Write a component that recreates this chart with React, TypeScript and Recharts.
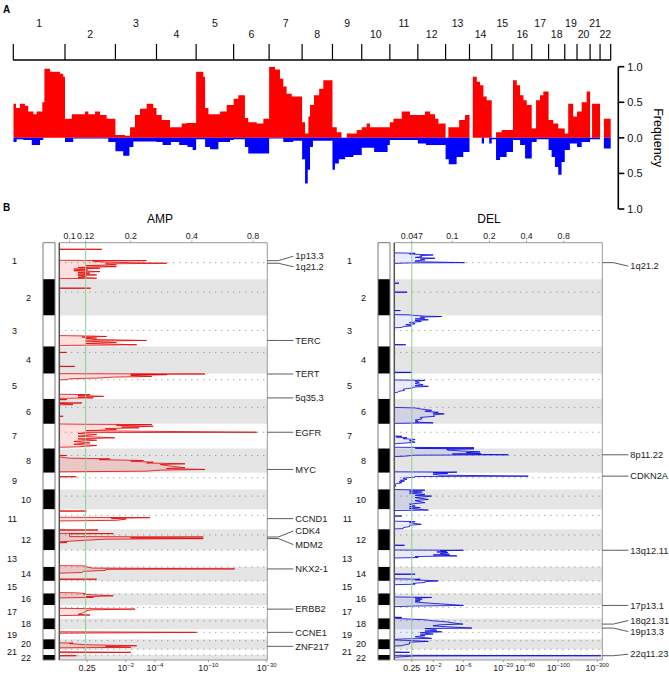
import React from 'react';
import { ComposedChart, Area, Line, XAxis, YAxis, ReferenceArea, ReferenceLine } from 'recharts';

const FONT = '"Liberation Sans", Arial, Helvetica, sans-serif';

// ---- chromosomes ----
const chromosomes = ['1', '2', '3', '4', '5', '6', '7', '8', '9', '10', '11', '12', '13', '14', '15', '16', '17', '18', '19', '20', '21', '22'];
// physical length (Mb), used by panel A
const chromLengthMb = [249.3, 243.2, 198.0, 191.2, 180.9, 171.1, 159.1, 146.4, 141.2, 135.5, 135.0, 133.9, 115.2, 107.3, 102.5, 90.4, 81.2, 78.1, 59.1, 63.0, 48.1, 51.3];
// marker counts (x10), used by panel B
const markerCounts = [366, 364, 310, 273, 253, 250, 247, 243, 167, 200, 200, 210, 167, 140, 126, 117, 133, 110, 100, 100, 57, 50];
const centromereMarker = [200, 496, 880, 1100, 1373, 1650, 1900, 2133, 2356, 2540, 2733, 2930, 3083, 3250, 3390, 3523, 3656, 3790, 3906, 3990, 4076, 4133];

// ---- panel A: frequency of gain / loss, step start (Mb) and value ----
const ampFrequency: [number, number][] = [
  [0, 0.48], [13, 0.42], [32, 0.48], [56, 0.45], [72, 0.37], [97, 0.33], [113, 0.37], [140, 0.5], [150, 0.97], [177, 0.93], [225, 0.9], [241, 0.86],
  [249.3, 0.27], [282, 0.33], [346, 0.37], [362, 0.33], [394, 0.37], [418, 0.32], [450, 0.27],
  [492.5, 0.04], [539, 0.03], [563, 0.15], [587, 0.32], [611, 0.41], [643, 0.48], [675, 0.42],
  [690.5, 0.32], [716, 0.25], [756, 0.15], [812, 0.2], [836, 0.21],
  [881.7, 0.93], [916, 0.86], [925, 0.42], [941, 0.33], [997, 0.37], [1029, 0.46],
  [1062.6, 0.55], [1085, 0.6], [1117, 0.28], [1133, 0.22], [1174, 0.2], [1206, 0.27],
  [1233.7, 1.0], [1262, 0.96], [1286, 0.83], [1302, 0.72], [1318, 0.62], [1343, 0.58],
  [1392.8, 0.22], [1407, 0.06], [1423, 0.3], [1431, 0.46], [1450, 0.6], [1475, 0.69], [1495, 0.81],
  [1539.2, 0.15], [1560, 0.08], [1583, 0], [1608, 0.06], [1656, 0.11],
  [1680.4, 0.15], [1704, 0.2], [1720, 0.15],
  [1815.9, 0.22], [1833, 0.27], [1873, 0.37], [1913, 0.32],
  [1950.9, 0.32], [1985, 0.37], [2010, 0.33], [2034, 0.27], [2050, 0.2],
  [2084.8, 0], [2098, 0.15], [2150, 0.25], [2178, 0.32],
  [2200, 0], [2216, 0.86], [2235, 0.79], [2251, 0.74], [2267, 0.58], [2283, 0.53],
  [2307.3, 0], [2328, 0.08], [2355, 0.11],
  [2409.8, 0.81], [2428, 0.74], [2444, 0.6], [2460, 0.53], [2476, 0.46],
  [2500.2, 0.13], [2521, 0.53], [2540, 0.6], [2556, 0.65],
  [2581.4, 0.25], [2604, 0.2], [2628, 0.13],
  [2659.5, 0.06], [2676, 0.48], [2700, 0.3],
  [2718.6, 0.37], [2741, 0.5], [2765, 0.65],
  [2781.6, 0], [2791, 0.48],
  [2829.7, 0], [2848, 0.27],
  [2881, 0.27],
];
const delFrequency: [number, number][] = [
  [0, -0.06], [16, -0.02], [48, -0.03], [89, -0.1], [129, -0.03], [145, 0],
  [249.3, -0.06], [289, -0.01], [458, -0.06],
  [492.5, -0.19], [530, -0.25], [560, -0.13], [579, -0.05],
  [690.5, -0.06], [720, -0.1], [760, -0.06], [800, -0.1], [840, -0.13], [865, -0.17],
  [881.7, -0.02], [925, -0.13], [949, -0.16], [989, -0.06], [1045, -0.03],
  [1062.6, -0.02], [1117, -0.13], [1133, -0.22],
  [1233.7, -0.01], [1302, -0.06], [1350, -0.04],
  [1392.8, -0.3], [1407, -0.64], [1420, -0.45], [1431, -0.13], [1445, -0.04],
  [1539.2, -0.45], [1551, -0.36], [1570, -0.3], [1600, -0.27], [1640, -0.24],
  [1680.4, -0.14], [1740, -0.2], [1805, -0.1],
  [1815.9, -0.03],
  [1950.9, -0.08], [1990, -0.1],
  [2084.8, -0.3], [2100, -0.37], [2138, -0.27], [2170, -0.2],
  [2200, 0], [2259, -0.08], [2270, 0], [2295, -0.08],
  [2307.3, -0.02], [2328, -0.31], [2347, -0.27], [2379, -0.2],
  [2409.8, -0.03], [2444, -0.1], [2468, -0.29],
  [2500.2, -0.06], [2524, -0.02],
  [2581.4, -0.17], [2596, -0.27], [2612, -0.41], [2628, -0.52], [2644, -0.34],
  [2659.5, -0.17], [2684, -0.08],
  [2718.6, -0.13], [2741, -0.06],
  [2781.6, -0.02],
  [2829.7, 0], [2848, -0.15],
  [2881, -0.15],
];
const freqTicks = [-1, -0.5, 0, 0.5, 1];

// ---- panel B: G-scores along the genome (marker position, score) ----
const ampScores: [number, number][] = [
  [0, 0.08], [63, 0.08], [66, 0.144], [69, 0.08], [176, 0.08], [180, 0.239], [184, 0.13], [195, 0.15], [200, 0.2], [206, 0.301], [212, 0.15], [222, 0.17], [230, 0.12], [240, 0.17], [248, 0.11], [256, 0.141], [264, 0.105], [273, 0.123], [281, 0.105], [290, 0.141], [298, 0.11], [306, 0.126], [315, 0.11], [323, 0.136], [331, 0.11], [340, 0.121], [348, 0.11], [356, 0.136], [362, 0.08],
  [453, 0.08], [456, 0.127], [459, 0.08],
  [930, 0.08], [936, 0.13], [940, 0.152], [946, 0.115], [956, 0.136], [962, 0.12], [970, 0.13], [980, 0.239], [986, 0.12], [1000, 0.17], [1010, 0.12], [1023, 0.214], [1030, 0.09], [1036, 0.08],
  [1097, 0.08], [1100, 0.097], [1103, 0.08], [1237, 0.08], [1240, 0.106], [1243, 0.08],
  [1313, 0.08], [1316, 0.464], [1319, 0.2], [1323, 0.301], [1330, 0.2], [1340, 0.254], [1348, 0.16], [1356, 0.141], [1364, 0.1], [1373, 0.097], [1378, 0.08], [1518, 0.08], [1523, 0.126], [1530, 0.11], [1540, 0.147], [1548, 0.11], [1556, 0.131], [1562, 0.08],
  [1570, 0.08], [1573, 0.097], [1576, 0.08], [1603, 0.08], [1606, 0.115], [1612, 0.09], [1623, 0.104], [1627, 0.08], [1737, 0.08], [1740, 0.093], [1743, 0.08],
  [1816, 0.08], [1820, 0.12], [1823, 0.254], [1830, 0.17], [1840, 0.258], [1848, 0.18], [1856, 0.22], [1864, 0.15], [1873, 0.17], [1885, 0.12], [1900, 0.834], [1904, 0.12], [1912, 0.11], [1923, 0.136], [1940, 0.11], [1956, 0.167], [1966, 0.11], [1980, 0.136], [1992, 0.105], [2006, 0.126], [2020, 0.105], [2033, 0.136], [2046, 0.112], [2052, 0.08],
  [2130, 0.08], [2133, 0.097], [2136, 0.08], [2160, 0.1], [2166, 0.158], [2175, 0.14], [2183, 0.231], [2190, 0.2], [2200, 0.258], [2208, 0.24], [2216, 0.37], [2224, 0.28], [2233, 0.3], [2245, 0.33], [2256, 0.37], [2264, 0.3], [2273, 0.464], [2280, 0.28], [2290, 0.239], [2298, 0.08],
  [2343, 0.08], [2346, 0.108], [2349, 0.08],
  [2687, 0.08], [2690, 0.121], [2693, 0.08], [2752, 0.08], [2756, 0.249], [2762, 0.16], [2770, 0.19], [2783, 0.17], [2790, 0.08],
  [2876, 0.08], [2880, 0.138], [2884, 0.08], [2913, 0.08], [2916, 0.164], [2920, 0.1], [2946, 0.1], [2950, 0.455], [2956, 0.2], [2962, 0.2], [2966, 0.455], [2972, 0.15], [2990, 0.104], [3000, 0.09], [3006, 0.097], [3012, 0.08],
  [3236, 0.08], [3240, 0.121], [3250, 0.121], [3262, 0.13], [3270, 0.65], [3274, 0.15], [3285, 0.15], [3294, 0.117], [3306, 0.115], [3315, 0.08], [3370, 0.08], [3373, 0.136], [3376, 0.08],
  [3506, 0.08], [3510, 0.108], [3516, 0.12], [3523, 0.117], [3530, 0.13], [3540, 0.164], [3548, 0.12], [3556, 0.131], [3562, 0.08],
  [3663, 0.08], [3668, 0.12], [3673, 0.21], [3680, 0.13], [3690, 0.12], [3698, 0.121], [3706, 0.117], [3715, 0.115], [3725, 0.11], [3733, 0.126], [3740, 0.08],
  [3900, 0.08], [3904, 0.3], [3906, 0.422], [3910, 0.2], [3915, 0.08],
  [4010, 0.08], [4013, 0.104], [4018, 0.1], [4030, 0.12], [4040, 0.214], [4046, 0.15], [4056, 0.2], [4062, 0.08],
  [4100, 0.08], [4106, 0.2], [4110, 0.08], [4137, 0.08], [4140, 0.108], [4144, 0.08], [4183, 0.08],
];
const delScores: [number, number][] = [
  [0, 0.03], [100, 0.03], [106, 0.05], [112, 0.045], [118, 0.055], [123, 0.07], [130, 0.055], [140, 0.0565], [148, 0.05], [156, 0.0724], [164, 0.055], [173, 0.06], [182, 0.05], [190, 0.05], [200, 0.126], [203, 0.045], [210, 0.03],
  [403, 0.03], [406, 0.037], [409, 0.03], [493, 0.03], [496, 0.043], [499, 0.03], [677, 0.03], [680, 0.038], [683, 0.03], [720, 0.03], [723, 0.044],
  [730, 0.05], [736, 0.06], [740, 0.082], [746, 0.055], [756, 0.06], [764, 0.05], [773, 0.064], [781, 0.05], [790, 0.056], [800, 0.045], [813, 0.05], [822, 0.042], [833, 0.047], [842, 0.04], [850, 0.039], [856, 0.03],
  [1020, 0.03], [1023, 0.042], [1026, 0.03], [1297, 0.03], [1300, 0.047], [1304, 0.03],
  [1375, 0.03], [1380, 0.06], [1388, 0.05], [1400, 0.054], [1410, 0.05], [1423, 0.058], [1432, 0.05], [1440, 0.064], [1448, 0.048], [1456, 0.048], [1468, 0.04], [1480, 0.041], [1490, 0.037], [1500, 0.036], [1506, 0.03],
  [1650, 0.03], [1656, 0.05], [1666, 0.055], [1680, 0.068], [1690, 0.06], [1700, 0.077], [1708, 0.07], [1716, 0.086], [1726, 0.07], [1740, 0.072], [1752, 0.055], [1766, 0.057], [1778, 0.05], [1790, 0.053], [1798, 0.05], [1806, 0.07], [1812, 0.03],
  [1935, 0.03], [1940, 0.039], [1948, 0.035], [1956, 0.043], [1964, 0.04], [1973, 0.05], [1985, 0.045], [2000, 0.05], [2010, 0.04], [2020, 0.03], [2050, 0.03], [2056, 0.15], [2060, 0.05],
  [2063, 0.06], [2066, 0.15], [2072, 0.09], [2080, 0.092], [2088, 0.12], [2096, 0.168], [2104, 0.13], [2113, 0.17], [2118, 0.1], [2126, 0.284], [2130, 0.05], [2140, 0.041], [2146, 0.03],
  [2296, 0.03], [2300, 0.109], [2306, 0.07], [2313, 0.092], [2320, 0.07], [2330, 0.08], [2340, 0.413], [2344, 0.05], [2350, 0.05], [2360, 0.04], [2373, 0.043], [2382, 0.038], [2390, 0.041], [2398, 0.037], [2406, 0.039], [2420, 0.034], [2440, 0.035], [2446, 0.03],
  [2473, 0.03], [2480, 0.06], [2490, 0.045], [2500, 0.057], [2510, 0.045], [2523, 0.06], [2532, 0.05], [2540, 0.068], [2555, 0.05], [2573, 0.064], [2585, 0.05], [2606, 0.06], [2620, 0.045], [2640, 0.05], [2648, 0.045], [2656, 0.055], [2665, 0.045], [2680, 0.064], [2686, 0.03],
  [2736, 0.03], [2740, 0.039], [2744, 0.03], [2790, 0.03], [2796, 0.05], [2806, 0.045], [2815, 0.05], [2823, 0.056], [2832, 0.045], [2846, 0.045], [2856, 0.04], [2866, 0.04], [2872, 0.03],
  [3030, 0.03], [3033, 0.041], [3036, 0.03], [3080, 0.03], [3083, 0.123], [3088, 0.08], [3093, 0.09], [3100, 0.075], [3106, 0.092], [3115, 0.08], [3123, 0.095], [3130, 0.07], [3140, 0.109], [3146, 0.05], [3156, 0.053], [3162, 0.03],
  [3320, 0.03], [3323, 0.05], [3326, 0.03], [3368, 0.03], [3373, 0.055], [3380, 0.05], [3390, 0.077], [3398, 0.06], [3406, 0.06], [3415, 0.048], [3423, 0.05], [3430, 0.03],
  [3550, 0.03], [3556, 0.068], [3562, 0.05], [3573, 0.057], [3582, 0.05], [3590, 0.055], [3600, 0.05], [3610, 0.06], [3620, 0.08], [3628, 0.1], [3636, 0.123], [3642, 0.05], [3650, 0.03],
  [3752, 0.03], [3756, 0.039], [3760, 0.03], [3770, 0.04], [3780, 0.06], [3790, 0.07], [3800, 0.09], [3810, 0.1], [3823, 0.122], [3830, 0.08], [3840, 0.07], [3850, 0.09], [3863, 0.144], [3868, 0.06], [3876, 0.07],
  [3885, 0.075], [3893, 0.06], [3900, 0.082], [3910, 0.055], [3923, 0.07], [3932, 0.055], [3940, 0.06], [3950, 0.05], [3966, 0.068], [3972, 0.04], [3980, 0.03],
  [3990, 0.05], [3996, 0.064], [4005, 0.045], [4023, 0.045], [4035, 0.04], [4040, 0.039], [4046, 0.03],
  [4100, 0.03], [4106, 0.045], [4110, 0.03], [4136, 0.03], [4140, 1.6], [4143, 0.05], [4150, 0.04], [4160, 0.03], [4183, 0.03],
];

const ampGenes: [string, number][] = [
  ['1p13.3', 180], ['1q21.2', 206], ['TERC', 980], ['TERT', 1316], ['5q35.3', 1556], ['EGFR', 1900], ['MYC', 2273],
  ['CCND1', 2766], ['CDK4', 2950], ['MDM2', 2966], ['NKX2-1', 3270], ['ERBB2', 3673], ['CCNE1', 3906], ['ZNF217', 4046],
];
const delGenes: [string, number][] = [
  ['1q21.2', 200], ['8p11.22', 2126], ['CDKN2A', 2340], ['13q12.11', 3083], ['17p13.1', 3636], ['18q21.31', 3823], ['19p13.3', 3863], ['22q11.23', 4140],
];
// label nudges (px) where neighbouring labels fan out
const labelNudge: Record<string, number> = { '1p13.3': -4.5, '1q21.2': 3.5, CDK4: -6, MDM2: 6, '18q21.31': -3.5, '19p13.3': 3.5, '22q11.23': -1.5 };

const ampGTicks = [0.1, 0.12, 0.2, 0.4, 0.8];
const ampQTicks = [0.122, 0.189, 0.263, 0.482, 0.934];
const ampQLabels = ['0.25', '10^\u22122', '10^\u22124', '10^\u221210', '10^\u221230'];
const delGTicks = [0.047, 0.1, 0.2, 0.4, 0.8];
const delQTicks = [0.0469, 0.0702, 0.1228, 0.259, 0.388, 0.723, 1.496];
const delQLabels = ['0.25', '10^\u22122', '10^\u22126', '10^\u221220', '10^\u221240', '10^\u2212100', '10^\u2212300'];

// ---- derived ----
const cumulative = (lens: number[]) => lens.reduce<number[]>((acc, l) => [...acc, acc[acc.length - 1] + l], [0]);
const genomeBounds = cumulative(chromLengthMb);
const genomeMid = chromLengthMb.map((l, i) => genomeBounds[i] + l / 2);
const GENOME_END = genomeBounds[genomeBounds.length - 1];
const markerBounds = cumulative(markerCounts);
const markerMid = markerCounts.map((l, i) => markerBounds[i] + l / 2);
const MARKER_END = markerBounds[markerBounds.length - 1];
const AXIS_GAP_MB = 36.6;

const ampFreqData = ampFrequency.map(([pos, f]) => ({ pos, f }));
const delFreqData = delFrequency.map(([pos, f]) => ({ pos, f }));
const rulerData = genomeMid.map((pos) => ({ pos, v: 0.5 }));
const ideogramData = markerMid.map((pos) => ({ pos, v: 0.5 }));

function ChromosomeRuler() {
  const nameTick = (props: any) => {
    const i = genomeMid.indexOf(props.payload.value);
    return (
      <text x={props.x} y={i % 2 === 0 ? 27.3 : 38.3} textAnchor="middle" fontSize={10.5} fontFamily={FONT} fill="#111">
        {chromosomes[i]}
      </text>
    );
  };
  return (
    <ComposedChart width={669} height={63} data={rulerData} margin={{ top: 44, right: 58.3, bottom: 0, left: 13.3 }}>
      <XAxis xAxisId="bounds" orientation="top" type="number" dataKey="pos" domain={[0, GENOME_END]} allowDataOverflow ticks={genomeBounds}
        interval={0} height={16} tickSize={16} tick={() => <g />} axisLine={{ stroke: '#000', strokeWidth: 1.5 }} tickLine={{ stroke: '#000', strokeWidth: 1.2 }} />
      <XAxis xAxisId="names" orientation="bottom" type="number" dataKey="pos" domain={[0, GENOME_END]} allowDataOverflow ticks={genomeMid}
        interval={0} height={1} tick={nameTick} axisLine={false} tickLine={false} />
      <YAxis hide domain={[0, 1]} allowDataOverflow />
      <Line xAxisId="names" dataKey="v" stroke="none" dot={false} activeDot={false} isAnimationActive={false} />
      <Line xAxisId="bounds" dataKey="v" stroke="none" dot={false} activeDot={false} isAnimationActive={false} />
    </ComposedChart>
  );
}

function FrequencyChart() {
  return (
    <ComposedChart width={669} height={220} margin={{ top: 66.7, right: 10.7, bottom: 11, left: 13.3 }}>
      <XAxis type="number" dataKey="pos" domain={[0, GENOME_END + AXIS_GAP_MB]} allowDataOverflow hide />
      <YAxis orientation="right" type="number" domain={[-1, 1]} allowDataOverflow ticks={freqTicks} width={40}
        tickFormatter={(v: number) => Math.abs(v).toFixed(1)} tickSize={6} tickMargin={3}
        tick={{ fontSize: 11, fill: '#111', fontFamily: FONT }}
        axisLine={{ stroke: '#000', strokeWidth: 1.6 }} tickLine={{ stroke: '#000', strokeWidth: 1.6 }} />
      <Area data={ampFreqData} dataKey="f" type="stepAfter" baseValue={0} fill="#ff0000" fillOpacity={1} stroke="none" isAnimationActive={false} />
      <Area data={delFreqData} dataKey="f" type="stepAfter" baseValue={0} fill="#0000ff" fillOpacity={1} stroke="none" isAnimationActive={false} />
    </ComposedChart>
  );
}

function Ideogram() {
  const chromTick = (props: any) => {
    const i = markerMid.indexOf(props.payload.value);
    return (
      <text x={i % 2 === 0 ? 17 : 31} y={props.y} dy="0.35em" textAnchor="end" fontSize={9} fontFamily={FONT} fill="#111">
        {chromosomes[i]}
      </text>
    );
  };
  return (
    <ComposedChart layout="vertical" width={60} height={454} data={ideogramData} margin={{ top: 22.7, right: 5, bottom: 14, left: 0 }}>
      <XAxis type="number" domain={[0, 1]} allowDataOverflow hide />
      <YAxis type="number" dataKey="pos" domain={[0, MARKER_END]} allowDataOverflow ticks={markerMid} interval={0} width={43}
        tick={chromTick} tickLine={false} axisLine={false} />
      {chromosomes.map((c, i) => (
        <ReferenceArea key={c} y1={markerBounds[i]} y2={markerBounds[i + 1]} fill={i % 2 ? '#000' : '#fff'} fillOpacity={1} stroke="none" />
      ))}
      <ReferenceArea y1={0} y2={MARKER_END} fill="none" stroke="#7a7a7a" strokeWidth={1} />
      <Line dataKey="v" stroke="none" dot={false} activeDot={false} isAnimationActive={false} />
    </ComposedChart>
  );
}

type PanelProps = {
  scores: [number, number][];
  genes: [string, number][];
  gTicks: number[];
  qTicks: number[];
  qLabels: string[];
  gDomain: [number, number];
  threshold: number;
  stroke: string;
  fill: string;
  fillOpacity: number;
  width: number;
  right: number;
};

function GisticPanel({ scores, genes, gTicks, qTicks, qLabels, gDomain, threshold, stroke, fill, fillOpacity, width, right }: PanelProps) {
  const data = scores.map(([pos, g]) => ({ pos, g }));
  const gTick = (props: any) => (
    <text x={props.x} y={props.y} dy={-0.5} textAnchor="middle" fontSize={8.8} fontFamily={FONT} fill="#222">
      {String(props.payload.value)}
    </text>
  );
  const qTick = (props: any) => {
    const label = qLabels[qTicks.indexOf(props.payload.value)] ?? '';
    const [base, exp] = label.split('^');
    return (
      <text x={props.x} y={props.y} dy={7.5} textAnchor="middle" fontSize={8.8} fontFamily={FONT} fill="#222">
        {base}
        {exp ? <tspan dy={-4} fontSize={6}>{exp}</tspan> : null}
      </text>
    );
  };
  const geneTick = (props: any) => {
    const gene = genes.find((g) => g[1] === props.payload.value);
    if (!gene) return <g />;
    const { x, y } = props;
    const dy = labelNudge[gene[0]] ?? 0;
    return (
      <g>
        <path d={`M${x},${y}H${x + 11}L${x + 26},${y + dy}`} fill="none" stroke="#333" strokeWidth={0.8} />
        <text x={x + 28} y={y + dy} dy="0.35em" fontSize={9.3} fontFamily={FONT} fill="#222">{gene[0]}</text>
      </g>
    );
  };
  return (
    <ComposedChart layout="vertical" width={width} height={454} data={data} margin={{ top: 8.7, right, bottom: 0, left: 58.3 }}>
      <XAxis xAxisId="g" orientation="top" type="number" scale="log" domain={gDomain} allowDataOverflow ticks={gTicks} interval={0}
        height={14} tickSize={2} tickMargin={1} tick={gTick} axisLine={{ stroke: '#999' }} tickLine={{ stroke: '#999' }} />
      <XAxis xAxisId="q" orientation="bottom" type="number" scale="log" domain={gDomain} allowDataOverflow ticks={qTicks} interval={0}
        height={14} tickSize={2} tickMargin={1} tick={qTick} axisLine={{ stroke: '#999' }} tickLine={{ stroke: '#999' }} />
      <YAxis yAxisId="pos" type="number" dataKey="pos" domain={[0, MARKER_END]} allowDataOverflow width={1}
        tick={false} tickLine={false} axisLine={{ stroke: '#555', strokeWidth: 1.5 }} />
      <YAxis yAxisId="genes" orientation="right" type="number" dataKey="pos" domain={[0, MARKER_END]} allowDataOverflow
        width={67.7} ticks={genes.map((g) => g[1])} interval={0} tickSize={0} tickMargin={0} tickLine={false}
        tick={geneTick} axisLine={{ stroke: '#999' }} />
      {chromosomes.map((c, i) =>
        i % 2 === 1 ? (
          <ReferenceArea key={c} xAxisId="g" yAxisId="pos" y1={markerBounds[i]} y2={markerBounds[i + 1]} fill="#000" fillOpacity={0.1} stroke="none" />
        ) : null,
      )}
      {centromereMarker.map((c) => (
        <ReferenceLine key={c} xAxisId="g" yAxisId="pos" y={c} stroke="#666" strokeWidth={0.8} strokeDasharray="1 5" />
      ))}
      <ReferenceLine xAxisId="g" yAxisId="pos" x={threshold} stroke="#8fcc8f" strokeWidth={1} />
      <Area xAxisId="g" yAxisId="pos" dataKey="g" type="linear" stroke={stroke} strokeWidth={0.8} fill={fill} fillOpacity={fillOpacity}
        dot={false} activeDot={false} isAnimationActive={false} />
    </ComposedChart>
  );
}

export default function App() {
  return (
    <div style={{ position: 'absolute', left: 0, top: 0, width: 669, height: 674, overflow: 'hidden', background: '#fff' }}>
      <div style={{ position: 'absolute', left: 0, top: 0 }}><ChromosomeRuler /></div>
      <div style={{ position: 'absolute', left: 0, top: 0 }}><FrequencyChart /></div>
      <div style={{ position: 'absolute', left: 0, top: 220 }}><Ideogram /></div>
      <div style={{ position: 'absolute', left: 0, top: 220 }}>
        <GisticPanel scores={ampScores} genes={ampGenes} gTicks={ampGTicks} qTicks={ampQTicks} qLabels={ampQLabels}
          gDomain={[0.089, 0.94]} threshold={0.12} stroke="#e60000" fill="#ff3333" fillOpacity={0.16} width={335} right={0} />
      </div>
      <div style={{ position: 'absolute', left: 335, top: 220 }}><Ideogram /></div>
      <div style={{ position: 'absolute', left: 335, top: 220 }}>
        <GisticPanel scores={delScores} genes={delGenes} gTicks={delGTicks} qTicks={delQTicks} qLabels={delQLabels}
          gDomain={[0.0339, 1.643]} threshold={0.047} stroke="#0000dd" fill="#3333ff" fillOpacity={0.1} width={345} right={10} />
      </div>
      <svg width={669} height={674} style={{ position: 'absolute', left: 0, top: 0, pointerEvents: 'none' }}>
        <text x={3} y={12.7} fontSize={10} fontWeight="bold" fontFamily={FONT}>A</text>
        <text x={3} y={210.5} fontSize={10} fontWeight="bold" fontFamily={FONT}>B</text>
        <text x={160} y={223} textAnchor="middle" fontSize={12} fontFamily={FONT}>AMP</text>
        <text x={489} y={223} textAnchor="middle" fontSize={12} fontFamily={FONT}>DEL</text>
        <text x={658} y={137.7} transform="rotate(90 658 137.7)" textAnchor="middle" dy="0.35em" fontSize={12.5} fontFamily={FONT}>Frequency</text>
      </svg>
    </div>
  );
}
